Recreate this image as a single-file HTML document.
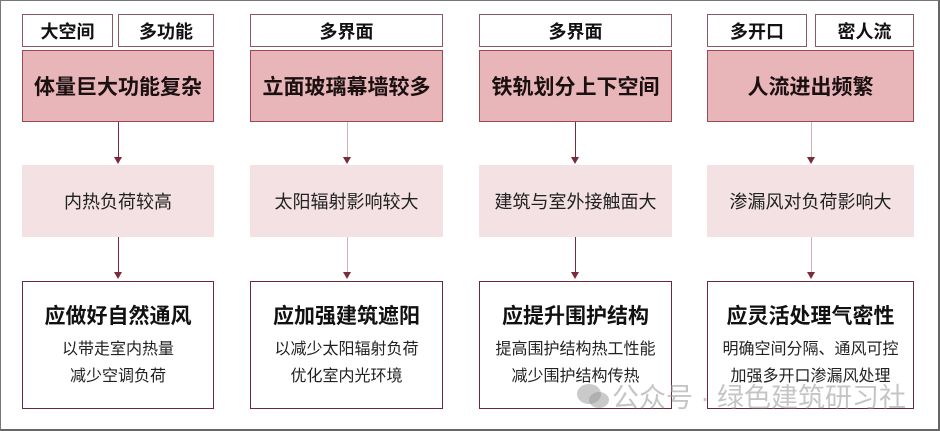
<!DOCTYPE html>
<html><head><meta charset="utf-8"><style>
body{margin:0;width:940px;height:431px;background:#fff;position:relative;overflow:hidden;font-family:"Liberation Sans","Noto Sans CJK SC",sans-serif;}
.frame{position:absolute;left:0;top:0;width:937px;height:428px;border:1px solid #777;border-right:2px solid #666;border-bottom:2px solid #666;}
.b{position:absolute;box-sizing:border-box;display:flex;align-items:center;justify-content:center;text-align:center;color:#111;}
.tag{top:14px;height:33px;border:1.5px solid #8a5a60;background:#fff;font-size:18px;font-weight:bold;}
.red{top:50px;height:72px;border:1.5px solid #9a4a55;background:#e8b5b9;font-size:21px;font-weight:bold;color:#1a1010;}
.mid{top:165px;height:72px;background:#f3e1e3;font-size:18px;color:#222;}
.bot{top:281px;height:128px;border:1.5px solid #6a2a35;background:#fff;flex-direction:column;}
.bot .t{font-size:21px;font-weight:bold;margin-bottom:6px;}
.bot .s{font-size:16px;line-height:27px;color:#222;}
.ln{position:absolute;width:1px;background:#7a2a3a;}
.ah{position:absolute;width:0;height:0;border-left:4px solid transparent;border-right:4px solid transparent;border-top:7px solid #7a2a3a;}
.wm{position:absolute;left:612px;top:376px;font-size:27px;color:rgba(150,150,150,0.55);white-space:nowrap;}
</style></head><body>
<div class="frame"></div>

<div class="b tag" style="left:22px;width:91px">大空间</div>
<div class="b tag" style="left:118px;width:96px">多功能</div>
<div class="b tag" style="left:250px;width:193px">多界面</div>
<div class="b tag" style="left:479px;width:193px">多界面</div>
<div class="b tag" style="left:707px;width:100px">多开口</div>
<div class="b tag" style="left:815px;width:99px">密人流</div>

<div class="b red" style="left:22px;width:192px">体量巨大功能复杂</div>
<div class="b red" style="left:250px;width:193px">立面玻璃幕墙较多</div>
<div class="b red" style="left:479px;width:193px">铁轨划分上下空间</div>
<div class="b red" style="left:707px;width:207px">人流进出频繁</div>

<div class="b mid" style="left:22px;width:192px">内热负荷较高</div>
<div class="b mid" style="left:250px;width:193px">太阳辐射影响较大</div>
<div class="b mid" style="left:479px;width:193px">建筑与室外接触面大</div>
<div class="b mid" style="left:707px;width:207px">渗漏风对负荷影响大</div>

<div class="b bot" style="left:22px;width:192px"><div class="t">应做好自然通风</div><div class="s">以带走室内热量</div><div class="s">减少空调负荷</div></div>
<div class="b bot" style="left:250px;width:193px"><div class="t">应加强建筑遮阳</div><div class="s">以减少太阳辐射负荷</div><div class="s">优化室内光环境</div></div>
<div class="b bot" style="left:479px;width:193px"><div class="t">应提升围护结构</div><div class="s">提高围护结构热工性能</div><div class="s">减少围护结构传热</div></div>
<div class="b bot" style="left:707px;width:207px"><div class="t">应灵活处理气密性</div><div class="s">明确空间分隔、通风可控</div><div class="s">加强多开口渗漏风处理</div></div>

<div class="ln" style="left:118px;top:122px;height:36px"></div><div class="ah" style="left:114px;top:157px"></div>
<div class="ln" style="left:347px;top:122px;height:36px;background:#d8b0b6"></div><div class="ah" style="left:343px;top:157px"></div>
<div class="ln" style="left:575px;top:122px;height:36px"></div><div class="ah" style="left:571px;top:157px"></div>
<div class="ln" style="left:811px;top:122px;height:36px;background:#d8b0b6"></div><div class="ah" style="left:807px;top:157px"></div>

<div class="ln" style="left:118px;top:237px;height:36px"></div><div class="ah" style="left:114px;top:272px"></div>
<div class="ln" style="left:347px;top:237px;height:36px;background:#d8b0b6"></div><div class="ah" style="left:343px;top:272px"></div>
<div class="ln" style="left:575px;top:237px;height:36px"></div><div class="ah" style="left:571px;top:272px"></div>
<div class="ln" style="left:811px;top:237px;height:36px;background:#d8b0b6"></div><div class="ah" style="left:807px;top:272px"></div>

<svg style="position:absolute;left:575px;top:381px" width="36" height="30"><ellipse cx="14" cy="13" rx="12" ry="10" fill="rgba(150,150,150,0.5)"/><ellipse cx="24" cy="19" rx="10" ry="8" fill="rgba(150,150,150,0.5)"/></svg>
<div class="wm">公众号 · 绿色建筑研习社</div>
</body></html>
